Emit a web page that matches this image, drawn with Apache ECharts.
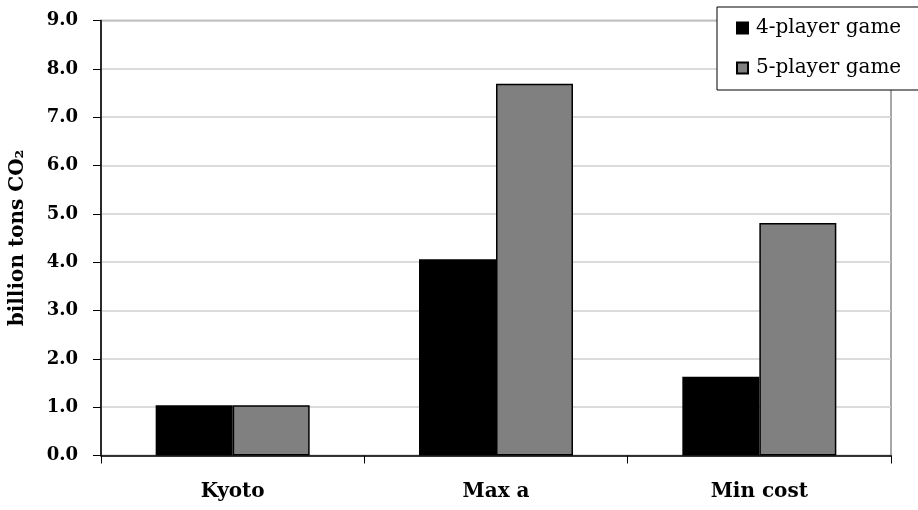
<!DOCTYPE html>
<html>
<head>
<meta charset="utf-8">
<script src="https://cdn.jsdelivr.net/npm/echarts@6/dist/echarts.min.js"></script>
<style>
  html, body { margin: 0; padding: 0; background: #fff; }
  #chart { width: 918px; height: 510px; }
</style>
</head>
<body>
<div id="chart"></div>
<script>
// Emissions by scenario, in billion tons of CO2
const categories = ['Kyoto', 'Max a', 'Min cost'];
const fourPlayer = [1.04, 4.06, 1.63];
const fivePlayer = [1.04, 7.69, 4.81];
const seriesNames = ['4-player game', '5-player game'];
const yTicks = { min: 0, max: 9, interval: 1 };

const serif = 'DejaVu Serif';
const chart = echarts.init(document.getElementById('chart'));

chart.setOption({
  animation: false,
  backgroundColor: '#ffffff',
  grid: {
    left: 101, right: 27, top: 20.5, bottom: 54.5,
    outerBoundsMode: 'none',
    containLabel: false,
    show: true, borderColor: '#8a8a8a', borderWidth: 1.5
  },
  legend: {
    orient: 'vertical',
    left: 717, top: 7,
    padding: [11, 40, 12, 19],
    itemGap: 20,
    itemWidth: 11, itemHeight: 11,
    backgroundColor: '#ffffff',
    borderColor: '#000000', borderWidth: 1,
    icon: 'rect',
    textStyle: { fontFamily: serif, fontSize: 20, color: '#000', padding: [0, 0, 0, 3] },
    data: seriesNames
  },
  xAxis: {
    type: 'category',
    data: categories,
    axisLine: { lineStyle: { color: '#000', width: 1.5 } },
    axisTick: { show: true, length: 8, lineStyle: { color: '#000', width: 1 } },
    axisLabel: { fontFamily: serif, fontWeight: 'bold', fontSize: 20, color: '#000', margin: 26 }
  },
  yAxis: {
    type: 'value',
    min: yTicks.min, max: yTicks.max, interval: yTicks.interval,
    name: 'billion tons CO\u2082',
    nameLocation: 'middle',
    nameGap: 73,
    nameTextStyle: { fontFamily: serif, fontWeight: 'bold', fontSize: 20, color: '#000' },
    axisLine: { show: true, lineStyle: { color: '#000', width: 1.5 } },
    axisTick: { show: true, length: 8, lineStyle: { color: '#000', width: 1 } },
    axisLabel: {
      fontFamily: serif, fontWeight: 'bold', fontSize: 18, color: '#000', margin: 23,
      formatter: v => v.toFixed(1)
    },
    splitLine: { lineStyle: { color: '#cfcfcf', width: 1.5 } }
  },
  series: [
    {
      name: seriesNames[0], type: 'bar', data: fourPlayer,
      barWidth: 77, barGap: '0%',
      itemStyle: { color: '#000000', borderColor: '#000000', borderWidth: 1.5 }
    },
    {
      name: seriesNames[1], type: 'bar', data: fivePlayer,
      barWidth: 77, barGap: '0%',
      itemStyle: { color: '#808080', borderColor: '#000000', borderWidth: 1.5 }
    }
  ]
});
</script>
</body>
</html>
